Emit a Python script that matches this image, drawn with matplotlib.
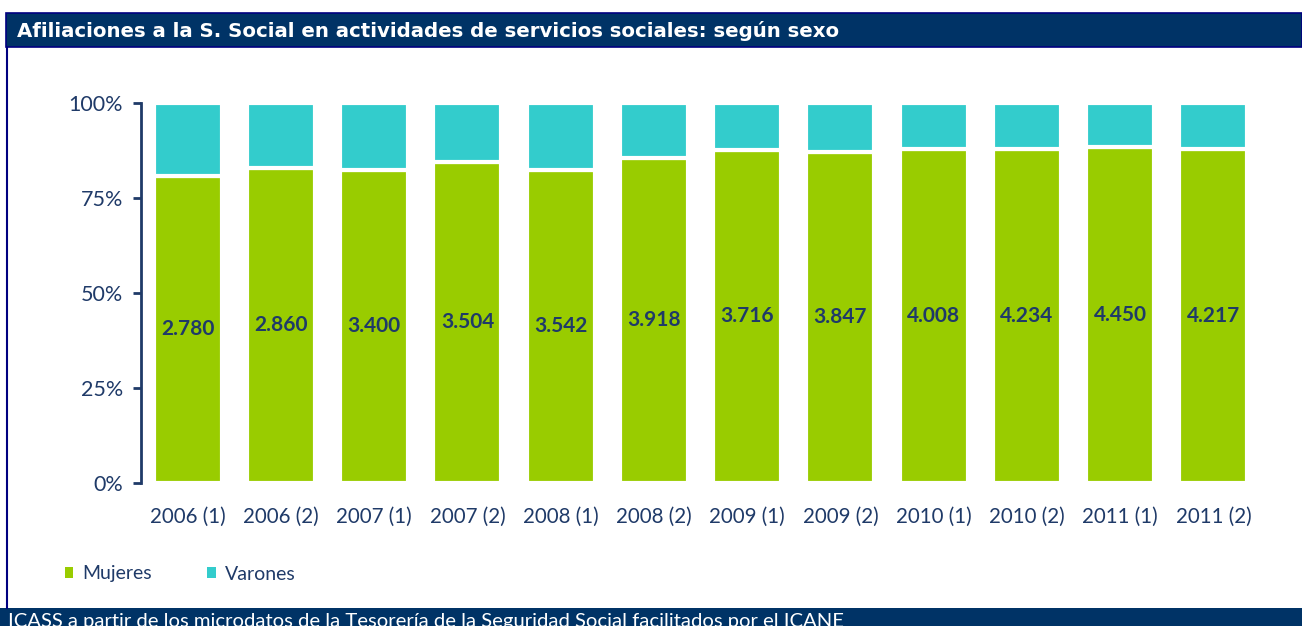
import matplotlib
matplotlib.use("Agg")
import matplotlib.pyplot as plt
from matplotlib.patches import Rectangle
import numpy as np

categories = ["2006 (1)", "2006 (2)", "2007 (1)", "2007 (2)", "2008 (1)", "2008 (2)",
              "2009 (1)", "2009 (2)", "2010 (1)", "2010 (2)", "2011 (1)", "2011 (2)"]
mujeres = [2780, 2860, 3400, 3504, 3542, 3918, 3716, 3847, 4008, 4234, 4450, 4217]
# estimated from the bar proportions
varones = [656, 586, 726, 643, 757, 659, 521, 565, 557, 588, 590, 586]
mujeres_labels = ["2.780", "2.860", "3.400", "3.504", "3.542", "3.918",
                  "3.716", "3.847", "4.008", "4.234", "4.450", "4.217"]
y_ticks = [0, 0.25, 0.5, 0.75, 1.0]
y_ticklabels = ["0%", "25%", "50%", "75%", "100%"]

title = "Afiliaciones a la S. Social en actividades de servicios sociales: según sexo"
source = "ICASS a partir de los microdatos de la Tesorería de la Seguridad Social facilitados por el ICANE"

GREEN = "#99CC00"
CYAN = "#33CCCC"
NAVY = "#1F3A68"
BAND = "#003366"
FONT = "Lato"

plt.rcParams["font.family"] = [FONT, "DejaVu Sans"]

W, H = 1302, 626
fig = plt.figure(figsize=(W / 100, H / 100), dpi=100)

# header band and frame
fig.patches.append(Rectangle((6 / W, 1 - 47 / H), 1 - 6 / W, 34 / H, transform=fig.transFigure,
                             facecolor=BAND, edgecolor="#000080", linewidth=1.2))
fig.patches.append(Rectangle((0, 0), 1, 18 / H, transform=fig.transFigure,
                             facecolor=BAND, edgecolor="none"))
fig.lines.append(plt.Line2D([7 / W, 7 / W], [18 / H, 1 - 47 / H], transform=fig.transFigure,
                            color="#000080", linewidth=1.5))
fig.text(17 / W, 1 - 31 / H, title, color="white", fontsize=14.2, fontweight="bold",
         va="center", ha="left", family=["DejaVu Sans"])
fig.text(8 / W, 13 / H, source, color="white", fontsize=14.6, va="top", ha="left")

ax = fig.add_axes([141 / W, 143 / H, (1260 - 141) / W, (483 - 103) / H])
tot = np.array(mujeres, float) + np.array(varones, float)
pm = np.array(mujeres) / tot
pv = np.array(varones) / tot
x = np.arange(len(categories))
ax.bar(x, pm, width=0.73, color=GREEN, edgecolor="white", linewidth=3, label="Mujeres")
ax.bar(x, pv, bottom=pm, width=0.73, color=CYAN, edgecolor="white", linewidth=3, label="Varones")
for xi, p, lab in zip(x, pm, mujeres_labels):
    ax.text(xi, p / 2, lab, ha="center", va="center", color=NAVY, fontsize=15, fontweight="bold")

ax.set_xlim(-0.5, len(categories) - 0.5)
ax.set_ylim(0, 1)
ax.set_yticks(y_ticks)
ax.set_yticklabels(y_ticklabels)
ax.set_xticks(x)
ax.set_xticklabels(categories)
for s in ["top", "right", "bottom"]:
    ax.spines[s].set_visible(False)
ax.spines["left"].set_color(NAVY)
ax.spines["left"].set_linewidth(2)
ax.tick_params(axis="y", colors=NAVY, labelsize=15.5, length=6, width=2, pad=7)
ax.tick_params(axis="x", colors=NAVY, labelsize=14.8, length=0, pad=17)
ax.set_facecolor("none")

leg = fig.legend(loc="center left", bbox_to_anchor=(47 / W, 1 - 574 / H), ncol=2, frameon=False,
                 fontsize=14, handlelength=0.45, handleheight=0.45, columnspacing=2.85,
                 handletextpad=0.45, labelcolor=NAVY)
for h in leg.legend_handles:
    h.set_edgecolor("none")

fig.savefig("out.png", dpi=100)
